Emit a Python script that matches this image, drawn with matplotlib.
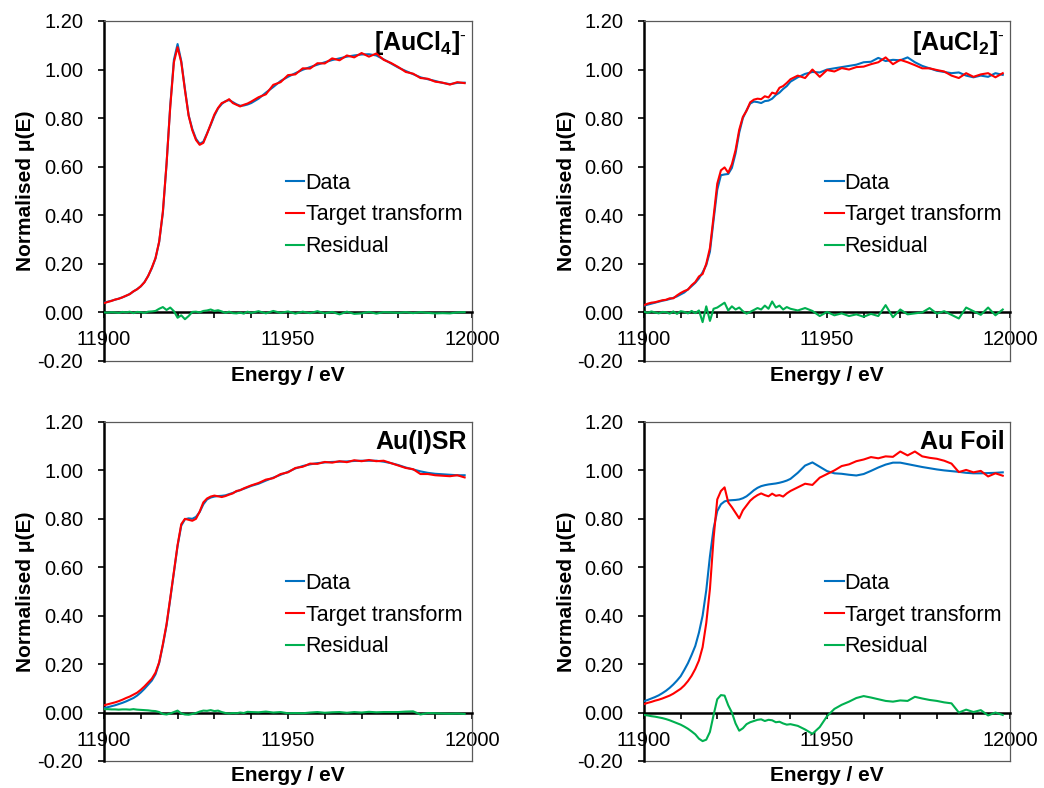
import matplotlib
matplotlib.use("Agg")
import matplotlib.pyplot as plt
from matplotlib.ticker import MultipleLocator, FormatStrFormatter

plt.rcParams['font.family'] = ['Liberation Sans', 'DejaVu Sans']
plt.rcParams['mathtext.fontset'] = 'custom'
plt.rcParams['mathtext.rm'] = 'Liberation Sans'
plt.rcParams['mathtext.bf'] = 'Liberation Sans:bold'
plt.rcParams['axes.unicode_minus'] = False

# energy grid (eV): 1 eV steps up to 11940, then 2 eV steps
energy = list(range(11900, 11941)) + list(range(11942, 11999, 2))

# [AuCl4]-
aucl4_data = [0.040, 0.044, 0.048, 0.052, 0.057, 0.062, 0.068, 0.076, 0.086, 0.096,
              0.107, 0.125, 0.150, 0.182, 0.222, 0.290, 0.410, 0.610, 0.850, 1.040,
              1.105, 1.035, 0.920, 0.812, 0.755, 0.715, 0.694, 0.703, 0.737, 0.772,
              0.810, 0.840, 0.858, 0.870, 0.874, 0.866, 0.857, 0.851, 0.852, 0.856,
              0.862,
              0.880, 0.905, 0.928, 0.953, 0.970, 0.985, 0.999, 1.010, 1.020, 1.030,
              1.039, 1.046, 1.053, 1.058, 1.062, 1.063, 1.058, 1.042, 1.025, 1.008,
              0.994, 0.981, 0.968, 0.960, 0.953, 0.945, 0.940, 0.945, 0.946]
aucl4_tt = [0.038, 0.043, 0.047, 0.053, 0.056, 0.062, 0.069, 0.075, 0.087, 0.095,
            0.108, 0.124, 0.150, 0.184, 0.224, 0.292, 0.415, 0.612, 0.845, 1.030,
            1.092, 1.030, 0.915, 0.810, 0.750, 0.710, 0.690, 0.698, 0.735, 0.775,
            0.815, 0.842, 0.862, 0.868, 0.878, 0.862, 0.855, 0.848, 0.855, 0.860,
            0.868,
            0.886, 0.898, 0.937, 0.948, 0.977, 0.980, 1.005, 1.004, 1.026, 1.025,
            1.046, 1.038, 1.058, 1.050, 1.068, 1.053, 1.066, 1.040, 1.027, 1.010,
            0.990, 0.983, 0.965, 0.962, 0.950, 0.946, 0.938, 0.948, 0.944]
aucl4_res = [0.000, -0.001, 0.001, 0.000, -0.002, 0.002, 0.000, 0.003, -0.003, 0.002,
             0.001, -0.002, 0.003, 0.004, 0.006, 0.015, 0.022, 0.010, 0.020, 0.005,
             -0.022, -0.012, -0.028, -0.015, 0.002, 0.003, 0.000, 0.006, 0.008, 0.012,
             0.006, 0.009, 0.004, -0.002, 0.003, -0.003, -0.004, -0.001, -0.005, 0.003,
             -0.002,
             0.005, -0.004, 0.006, -0.002, 0.004, -0.005, 0.003, -0.003, 0.005, -0.004,
             0.002, -0.008, 0.003, -0.006, -0.004, 0.002, -0.005, 0.001, 0.000, -0.002,
             0.001, -0.003, 0.001, -0.002, -0.004, -0.003, -0.004, 0.000, 0.001]

# [AuCl2]-
aucl2_data = [0.028, 0.032, 0.036, 0.040, 0.044, 0.048, 0.051, 0.055, 0.060, 0.066,
              0.074, 0.082, 0.095, 0.108, 0.122, 0.140, 0.165, 0.195, 0.250, 0.380,
              0.505, 0.565, 0.568, 0.570, 0.595, 0.655, 0.740, 0.800, 0.832, 0.860,
              0.868, 0.866, 0.862, 0.870, 0.872, 0.880, 0.895, 0.905, 0.920, 0.932,
              0.950,
              0.968, 0.982, 0.990, 0.988, 1.000, 1.005, 1.010, 1.015, 1.020, 1.030,
              1.032, 1.048, 1.035, 1.040, 1.038, 1.050, 1.030, 1.015, 1.005, 0.995,
              0.990, 0.985, 0.988, 0.975, 0.968, 0.975, 0.970, 0.985, 0.978]
aucl2_tt = [0.030, 0.036, 0.040, 0.042, 0.046, 0.050, 0.052, 0.058, 0.058, 0.070,
            0.080, 0.088, 0.094, 0.112, 0.125, 0.148, 0.158, 0.200, 0.265, 0.395,
            0.530, 0.585, 0.597, 0.575, 0.610, 0.668, 0.752, 0.805, 0.830, 0.865,
            0.876, 0.880, 0.878, 0.890, 0.885, 0.905, 0.900, 0.925, 0.932, 0.945,
            0.960,
            0.975, 0.965, 1.000, 0.970, 0.998, 0.992, 1.006, 1.000, 1.010, 1.012,
            1.022, 1.030, 1.050, 1.022, 1.040, 1.030, 1.018, 1.005, 1.005, 0.998,
            0.992, 0.975, 0.965, 0.985, 0.970, 0.980, 0.985, 0.968, 0.985]
aucl2_res = [0.003, -0.002, 0.004, 0.000, -0.004, 0.002, 0.001, -0.005, 0.004, -0.006,
             0.005, 0.002, -0.004, 0.006, -0.003, 0.008, -0.040, 0.025, -0.035, 0.015,
             0.020, 0.030, 0.040, 0.008, 0.025, 0.012, 0.020, 0.005, -0.005, 0.002,
             0.010, 0.018, 0.012, 0.028, 0.015, 0.045, 0.020, 0.028, 0.012, 0.022,
             0.015,
             0.008, 0.018, 0.006, -0.015, 0.002, -0.012, -0.004, -0.015, -0.008, -0.018,
             -0.006, -0.015, 0.030, -0.020, 0.012, -0.008, -0.004, 0.000, 0.018, -0.005,
             0.005, -0.010, -0.025, 0.020, 0.005, -0.010, 0.020, -0.012, 0.012]

# Au(I)SR
ausr_data = [0.018, 0.022, 0.026, 0.030, 0.035, 0.040, 0.046, 0.053, 0.060, 0.070,
             0.083, 0.098, 0.115, 0.132, 0.158, 0.205, 0.278, 0.360, 0.468, 0.578,
             0.688, 0.772, 0.798, 0.802, 0.800, 0.808, 0.828, 0.860, 0.880, 0.888,
             0.892, 0.894, 0.895, 0.897, 0.902, 0.907, 0.913, 0.919, 0.924, 0.930,
             0.936,
             0.945, 0.958, 0.970, 0.982, 0.994, 1.008, 1.018, 1.025, 1.030, 1.033,
             1.035, 1.036, 1.037, 1.039, 1.040, 1.040, 1.040, 1.036, 1.030, 1.022,
             1.012, 1.004, 0.996, 0.990, 0.986, 0.984, 0.982, 0.980, 0.980]
ausr_tt = [0.030, 0.034, 0.038, 0.042, 0.047, 0.053, 0.060, 0.066, 0.074, 0.082,
           0.094, 0.108, 0.124, 0.140, 0.165, 0.208, 0.282, 0.365, 0.472, 0.582,
           0.692, 0.778, 0.800, 0.796, 0.792, 0.800, 0.830, 0.868, 0.884, 0.892,
           0.896, 0.893, 0.890, 0.894, 0.900, 0.905, 0.915, 0.918, 0.926, 0.932,
           0.938,
           0.948, 0.962, 0.968, 0.985, 0.992, 1.010, 1.015, 1.028, 1.027, 1.035,
           1.032, 1.038, 1.034, 1.042, 1.038, 1.043, 1.038, 1.040, 1.030, 1.020,
           1.010, 1.005, 0.985, 0.985, 0.980, 0.978, 0.976, 0.980, 0.971]
ausr_res = [0.014, 0.014, 0.013, 0.013, 0.012, 0.013, 0.013, 0.012, 0.014, 0.012,
            0.011, 0.010, 0.009, 0.007, 0.006, 0.002, -0.006, -0.008, -0.004, 0.002,
            0.008, -0.004, -0.008, -0.009, -0.006, -0.002, 0.004, 0.008, 0.007, 0.010,
            0.006, 0.008, 0.002, -0.002, -0.004, -0.002, -0.003, 0.000, -0.002, 0.003,
            0.002,
            0.001, 0.004, 0.000, 0.002, -0.003, -0.002, -0.003, 0.000, 0.002, -0.001,
            0.001, 0.002, -0.001, 0.002, 0.000, 0.003, 0.001, 0.002, 0.002, 0.002,
            0.004, 0.005, -0.008, -0.002, -0.003, -0.004, -0.005, -0.004, -0.006]

# Au foil
aufoil_data = [0.047, 0.052, 0.058, 0.064, 0.071, 0.080, 0.090, 0.102, 0.116, 0.132,
               0.150, 0.176, 0.204, 0.238, 0.275, 0.330, 0.400, 0.505, 0.645, 0.760,
               0.832, 0.860, 0.872, 0.876, 0.877, 0.878, 0.880, 0.885, 0.893, 0.905,
               0.918, 0.928, 0.935, 0.939, 0.942, 0.944, 0.946, 0.949, 0.953, 0.958,
               0.965,
               0.990, 1.020, 1.033, 1.015, 0.997, 0.988, 0.986, 0.982, 0.979, 0.985,
               0.998, 1.012, 1.024, 1.032, 1.032, 1.026, 1.020, 1.014, 1.009, 1.004,
               1.000, 0.997, 0.994, 0.990, 0.988, 0.988, 0.989, 0.990, 0.992]
aufoil_tt = [0.035, 0.040, 0.044, 0.049, 0.053, 0.058, 0.064, 0.070, 0.078, 0.088,
             0.098, 0.112, 0.130, 0.152, 0.180, 0.215, 0.270, 0.370, 0.510, 0.720,
             0.880, 0.915, 0.930, 0.868, 0.848, 0.825, 0.802, 0.835, 0.855, 0.875,
             0.888, 0.898, 0.905, 0.898, 0.893, 0.904, 0.895, 0.898, 0.892, 0.905,
             0.915,
             0.930, 0.945, 0.940, 0.970, 0.985, 1.000, 1.018, 1.025, 1.038, 1.045,
             1.055, 1.050, 1.058, 1.056, 1.078, 1.062, 1.078, 1.058, 1.052, 1.048,
             1.040, 1.028, 0.993, 1.002, 0.992, 0.998, 0.975, 0.988, 0.978]
aufoil_res = [-0.010, -0.012, -0.015, -0.017, -0.020, -0.023, -0.027, -0.032, -0.038, -0.044,
              -0.050, -0.058, -0.067, -0.078, -0.090, -0.108, -0.118, -0.112, -0.080, -0.010,
              0.055, 0.072, 0.070, 0.030, 0.000, -0.045, -0.075, -0.065, -0.048, -0.040,
              -0.035, -0.030, -0.028, -0.035, -0.030, -0.032, -0.040, -0.038, -0.045, -0.050,
              -0.048,
              -0.055, -0.070, -0.088, -0.060, -0.015, 0.015, 0.032, 0.045, 0.060, 0.068,
              0.062, 0.055, 0.048, 0.045, 0.050, 0.048, 0.065, 0.058, 0.052, 0.048,
              0.042, 0.038, 0.000, 0.012, 0.002, 0.010, -0.012, 0.000, -0.010]

titles = ['[AuCl$_\\mathbf{4}$]$^\u2010$', '[AuCl$_\\mathbf{2}$]$^\u2010$',
          'Au(I)SR', 'Au Foil']
panels = [(aucl4_data, aucl4_tt, aucl4_res), (aucl2_data, aucl2_tt, aucl2_res),
          (ausr_data, ausr_tt, ausr_res), (aufoil_data, aufoil_tt, aufoil_res)]

# axes boxes in figure fractions [left, bottom, width, height]
boxes = [[0.0996, 0.5419, 0.3525, 0.4315], [0.6169, 0.5419, 0.3506, 0.4315],
         [0.0996, 0.0343, 0.3525, 0.4302], [0.6169, 0.0343, 0.3506, 0.4302]]

fig = plt.figure(figsize=(10.44, 7.88), dpi=100)

for box, title, (dat, tt, res) in zip(boxes, titles, panels):
    ax = fig.add_axes(box)
    ax.plot(energy, dat, color='#0070C0', lw=1.5, label='Data', zorder=3)
    ax.plot(energy, tt, color='#FF0000', lw=1.5, label='Target transform', zorder=4)
    ax.plot(energy, res, color='#00B050', lw=1.5, label='Residual', zorder=3)

    ax.set_xlim(11900, 12000)
    ax.set_ylim(-0.2, 1.2)
    ax.spines['bottom'].set_position(('data', 0))
    ax.spines['bottom'].set_linewidth(1.8)
    ax.spines['left'].set_linewidth(1.8)
    for s in ['top', 'right']:
        ax.spines[s].set_color('#595959')
        ax.spines[s].set_linewidth(0.9)
    ax.axhline(-0.2, color='#595959', lw=0.9, clip_on=False)

    ax.xaxis.set_major_locator(MultipleLocator(50))
    ax.xaxis.set_minor_locator(MultipleLocator(10))
    ax.yaxis.set_major_locator(MultipleLocator(0.2))
    ax.yaxis.set_major_formatter(FormatStrFormatter('%.2f'))
    ax.tick_params(axis='x', which='both', direction='out', length=4, width=1.2,
                   labelsize=14.5, pad=9)
    ax.tick_params(axis='y', direction='out', length=4, width=1.2,
                   labelsize=14.5, pad=11)

    ax.set_xlabel('Energy / eV', fontsize=15, fontweight='bold')
    ax.xaxis.label.set_va('center')
    ax.xaxis.set_label_coords(0.5, -0.044)
    ax.set_ylabel('Normalised μ(E)', fontsize=15, fontweight='bold')
    ax.yaxis.label.set_va('center')
    ax.yaxis.set_label_coords(-0.212, 0.5)

    ax.text(0.985, 0.975, title, transform=ax.transAxes, ha='right', va='top',
            fontsize=18, fontweight='bold')

    ax.legend(loc='center left', bbox_to_anchor=(0.495, 0.43), frameon=False,
              fontsize=15.5, handlelength=0.85, handletextpad=0.05,
              labelspacing=0.5, borderpad=0, borderaxespad=0)

fig.savefig('out.png', dpi=100)
